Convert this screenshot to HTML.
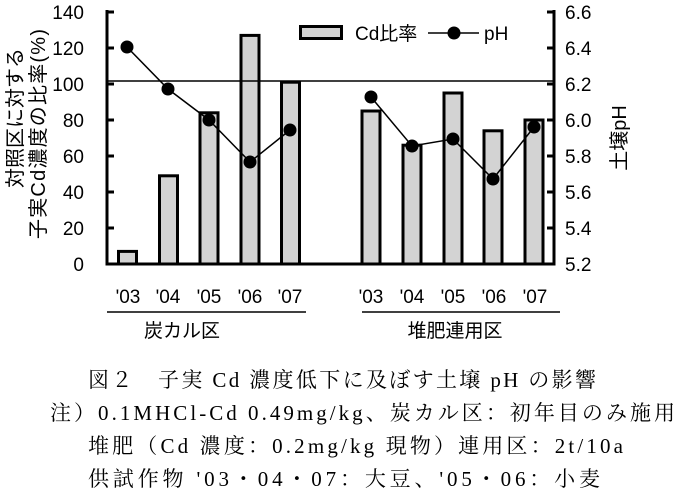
<!DOCTYPE html>
<html><head><meta charset="utf-8"><style>
html,body{margin:0;padding:0;background:#fff;width:684px;height:502px;overflow:hidden}
svg text{font-family:"Liberation Sans","Noto Sans CJK JP",sans-serif}
.s{font-family:"Liberation Serif","Noto Serif CJK SC",serif !important}
</style></head><body>
<svg width="684" height="502" xmlns="http://www.w3.org/2000/svg">
<g fill="#d3d3d3" stroke="#000" stroke-width="3">
<rect x="118.5" y="251.4" width="18" height="12.6"/>
<rect x="159.5" y="175.8" width="18" height="88.2"/>
<rect x="200" y="112.8" width="18" height="151.2"/>
<rect x="241" y="35.4" width="18" height="228.6"/>
<rect x="281.5" y="82.2" width="18" height="181.8"/>
<rect x="362" y="111" width="18" height="153"/>
<rect x="403" y="145.2" width="18" height="118.8"/>
<rect x="444" y="93" width="18" height="171"/>
<rect x="484" y="130.8" width="18" height="133.2"/>
<rect x="525" y="120" width="18" height="144"/>
</g>
<line x1="107" y1="81" x2="554" y2="81" stroke="#000" stroke-width="1.5"/>
<g stroke="#000" stroke-width="3" fill="none">
<path d="M107 10V264H554V10"/>
<path d="M107 12h7M107 48h7M107 84h7M107 120h7M107 156h7M107 192h7M107 228h7"/>
<path d="M554 12h-7M554 48h-7M554 84h-7M554 120h-7M554 156h-7M554 192h-7M554 228h-7"/>
</g>
<g stroke="#000" stroke-width="1.5" fill="none">
<polyline points="127,47 168,89 209,120 250,162 290,130"/>
<polyline points="371,97 412,146 453,139 493,179 534,127"/>
<line x1="107" y1="312" x2="306" y2="312"/>
<line x1="362" y1="312" x2="560" y2="312"/>
<line x1="428" y1="33" x2="479" y2="33"/>
</g>
<g fill="#000">
<circle cx="127" cy="47" r="6.5"/><circle cx="168" cy="89" r="6.5"/><circle cx="209" cy="120" r="6.5"/><circle cx="250" cy="162" r="6.5"/><circle cx="290" cy="130" r="6.5"/>
<circle cx="371" cy="97" r="6.5"/><circle cx="412" cy="146" r="6.5"/><circle cx="453" cy="139" r="6.5"/><circle cx="493" cy="179" r="6.5"/><circle cx="534" cy="127" r="6.5"/>
<circle cx="454" cy="33" r="6.5"/>
</g>
<rect x="300.5" y="26.5" width="41" height="12" fill="#d3d3d3" stroke="#000" stroke-width="3"/>
<g font-size="19" fill="#000">
<text x="355" y="40">Cd比率</text>
<text x="484" y="40">pH</text>
<g text-anchor="end">
<text x="84" y="19">140</text><text x="84" y="55">120</text><text x="84" y="91">100</text><text x="84" y="127">80</text><text x="84" y="163">60</text><text x="84" y="199">40</text><text x="84" y="235">20</text><text x="84" y="271">0</text>
</g>
<text x="565" y="19">6.6</text><text x="565" y="55">6.4</text><text x="565" y="91">6.2</text><text x="565" y="127">6.0</text><text x="565" y="163">5.8</text><text x="565" y="199">5.6</text><text x="565" y="235">5.4</text><text x="565" y="271">5.2</text>
<g text-anchor="middle">
<text x="128" y="303">'03</text><text x="168" y="303">'04</text><text x="209" y="303">'05</text><text x="250" y="303">'06</text><text x="290" y="303">'07</text>
<text x="371" y="303">'03</text><text x="412" y="303">'04</text><text x="453" y="303">'05</text><text x="494" y="303">'06</text><text x="535" y="303">'07</text>
<text x="182" y="337">炭カル区</text><text x="455" y="337">堆肥連用区</text>
<text transform="translate(22,118) rotate(-90)" font-size="20">対照区に対する</text>
<text transform="translate(45,134) rotate(-90)" font-size="20" textLength="210">子実Cd濃度の比率(%)</text>
<text transform="translate(626,138) rotate(-90)" font-size="20">土壌pH</text>
</g>
</g>
<g font-size="21" fill="#000">
<text class="s" x="88" y="387" textLength="508">図２　子実 Cd 濃度低下に及ぼす土壌 pH の影響</text>
<text class="s" x="50" y="420" textLength="625">注）0.1MHCl-Cd 0.49mg/kg、炭カル区：初年目のみ施用</text>
<text class="s" x="88" y="453" textLength="535">堆肥（Cd 濃度：0.2mg/kg 現物）連用区：2t/10a</text>
<text class="s" x="88" y="486" textLength="512">供試作物 '03・04・07：大豆、'05・06：小麦</text>
</g>
</svg>
</body></html>
